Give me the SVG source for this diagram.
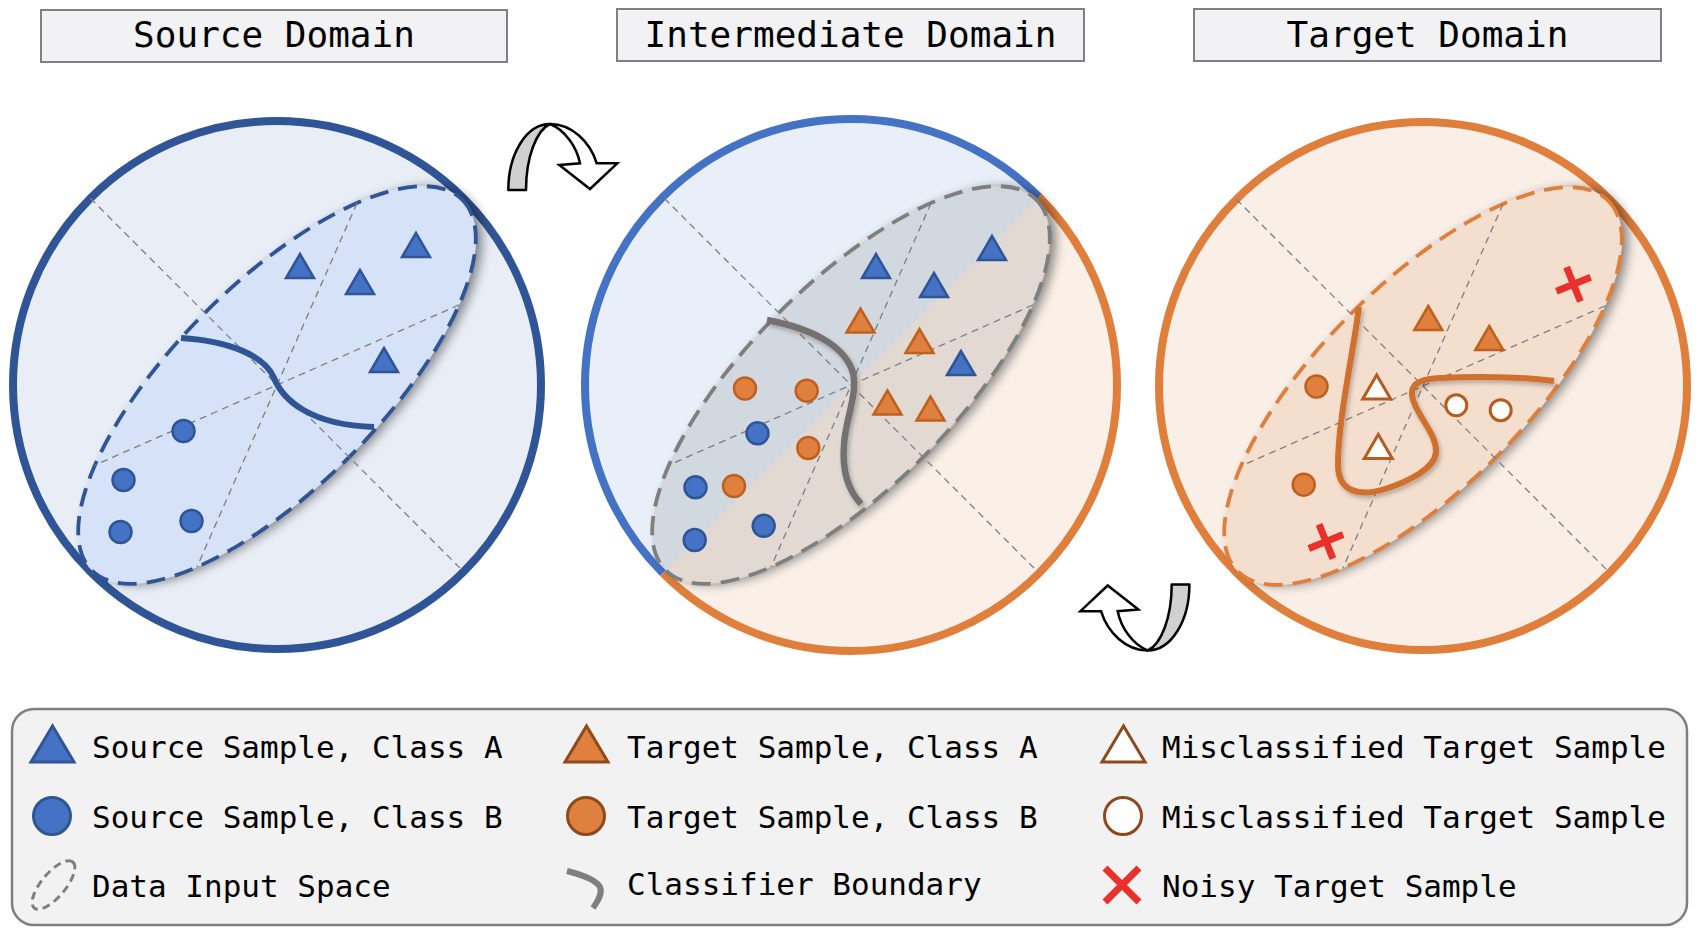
<svg xmlns="http://www.w3.org/2000/svg" xmlns:xlink="http://www.w3.org/1999/xlink" width="1700" height="936" viewBox="0 0 1700 936">
<defs>
<style>
.tbox{fill:#F2F2F4;stroke:#808080;stroke-width:2}
.title{font-family:"DejaVu Sans Mono","Liberation Mono",monospace;font-size:36px;fill:#000;text-anchor:middle}
.leg{font-family:"DejaVu Sans Mono","Liberation Mono",monospace;font-size:31px;fill:#000}
.axis{stroke:#7F7F7F;stroke-width:1.3;stroke-dasharray:7 5;fill:none}
.bs{fill:#4472C4;stroke:#2F5597;stroke-width:2.5}
.os{fill:#E0803E;stroke:#C0601F;stroke-width:2.5}
.ms{fill:#FFFFFF;stroke:#B85A1E;stroke-width:3}
.cross{stroke:#E8312A;stroke-width:7;fill:none}
.space{stroke-width:3.8;stroke-dasharray:19 10}
.arrowBack{fill:#D0D0D0;stroke:#000;stroke-width:2.5;stroke-linejoin:round}
.arrowFront{fill:#FFFFFF;stroke:#000;stroke-width:2.5;stroke-linejoin:miter}
</style>
<filter id="shOut" x="-15%" y="-25%" width="130%" height="150%">
<feGaussianBlur in="SourceAlpha" stdDeviation="5.5"/>
<feOffset dx="4" dy="5" result="b"/>
<feComponentTransfer><feFuncA type="linear" slope="0.45"/></feComponentTransfer>
<feComposite in2="SourceAlpha" operator="out"/>
</filter>
<filter id="lsh" x="-20%" y="-20%" width="140%" height="140%">
<feDropShadow dx="2" dy="3" stdDeviation="2" flood-color="#000" flood-opacity="0.25"/>
</filter>
<linearGradient id="midFill" gradientUnits="userSpaceOnUse" x1="751" y1="285" x2="951" y2="485">
<stop offset="0.5" stop-color="#E8EFF8"/>
<stop offset="0.5" stop-color="#FAF0E8"/>
</linearGradient>
<polygon id="tri" points="0,-12 -14,12 14,12"/>
<g id="axes">
<line class="axis" x1="0" y1="-264" x2="0" y2="264"/>
<line class="axis" x1="185.3" y1="72.1" x2="-185.3" y2="-72.1"/>
<line class="axis" x1="185.3" y1="-72.1" x2="-185.3" y2="72.1"/>
</g>
</defs>

<g id="title-source">
<rect class="tbox" x="41" y="10" width="466" height="52"/>
<text class="title" x="274" y="47">Source Domain</text>
</g>
<g id="title-intermediate">
<rect class="tbox" x="617" y="9" width="467" height="52"/>
<text class="title" x="850.5" y="47">Intermediate Domain</text>
</g>
<g id="title-target">
<rect class="tbox" x="1194" y="9" width="467" height="52"/>
<text class="title" x="1427.5" y="47">Target Domain</text>
</g>

<g id="source-domain">
<circle cx="277" cy="385" r="264" fill="#E9EDF6" stroke="#2F5597" stroke-width="8"/>
<g transform="translate(277,385) rotate(-45)">
<ellipse rx="262" ry="102" fill="#000" filter="url(#shOut)"/>
<ellipse class="space" rx="262" ry="102" fill="#D6E2F7" stroke="#2F5597"/>
<use xlink:href="#axes" href="#axes"/>
</g>
<use class="bs" href="#tri" xlink:href="#tri" x="300" y="266"/>
<use class="bs" href="#tri" xlink:href="#tri" x="416" y="245"/>
<use class="bs" href="#tri" xlink:href="#tri" x="360" y="282"/>
<use class="bs" href="#tri" xlink:href="#tri" x="384" y="360"/>
<circle class="bs" cx="183.5" cy="431" r="11"/>
<circle class="bs" cx="123.5" cy="480" r="11"/>
<circle class="bs" cx="120.5" cy="532" r="11"/>
<circle class="bs" cx="191.5" cy="521" r="11"/>
<path d="M181,338 C230,341 265,356 274,378 C283,400 310,425 374,427" fill="none" stroke="#2F5597" stroke-width="6"/>
</g>

<g id="intermediate-domain">
<circle cx="851" cy="385" r="266" fill="url(#midFill)"/>
<path d="M662.9,573.1 A266,266 0 0 1 1039.1,196.9" fill="none" stroke="#4472C4" stroke-width="8"/>
<path d="M1039.1,196.9 A266,266 0 0 1 662.9,573.1" fill="none" stroke="#E07E3C" stroke-width="8"/>
<g transform="translate(851,385) rotate(-45)">
<ellipse rx="262" ry="102" fill="#000" filter="url(#shOut)"/>
<ellipse class="space" rx="262" ry="102" fill="#7F7F7F" fill-opacity="0.2" stroke="#7F7F7F"/>
<use xlink:href="#axes" href="#axes"/>
</g>
<use class="bs" href="#tri" xlink:href="#tri" x="876" y="266"/>
<use class="bs" href="#tri" xlink:href="#tri" x="992" y="248"/>
<use class="bs" href="#tri" xlink:href="#tri" x="934" y="285"/>
<use class="bs" href="#tri" xlink:href="#tri" x="961" y="363"/>
<use class="os" href="#tri" xlink:href="#tri" x="860.5" y="320.5"/>
<use class="os" href="#tri" xlink:href="#tri" x="919.5" y="341"/>
<use class="os" href="#tri" xlink:href="#tri" x="887.5" y="402.5"/>
<use class="os" href="#tri" xlink:href="#tri" x="930.5" y="408.5"/>
<circle class="os" cx="745" cy="388.5" r="11"/>
<circle class="os" cx="806.7" cy="390.7" r="11"/>
<circle class="os" cx="808.3" cy="448" r="11"/>
<circle class="os" cx="734" cy="486" r="11"/>
<circle class="bs" cx="757.5" cy="433.3" r="11"/>
<circle class="bs" cx="695.5" cy="487.3" r="11"/>
<circle class="bs" cx="694.7" cy="540" r="11"/>
<circle class="bs" cx="763.7" cy="525.8" r="11"/>
<path d="M767,320 C810,328 845,345 853,373 C858,395 845,420 844,445 C842,470 848,490 861,504" fill="none" stroke="#767171" stroke-width="6.5" filter="url(#lsh)"/>
</g>

<g id="target-domain">
<circle cx="1423" cy="386" r="264" fill="#FAEFE6" stroke="#E07E3C" stroke-width="8"/>
<g transform="translate(1423,386) rotate(-45)">
<ellipse rx="262" ry="102" fill="#000" filter="url(#shOut)"/>
<ellipse class="space" rx="262" ry="102" fill="#F4DFCE" stroke="#E07E3C"/>
<use xlink:href="#axes" href="#axes"/>
</g>
<use class="os" href="#tri" xlink:href="#tri" x="1428.3" y="318"/>
<use class="os" href="#tri" xlink:href="#tri" x="1489.3" y="338"/>
<use class="ms" href="#tri" xlink:href="#tri" x="1376.7" y="387"/>
<use class="ms" href="#tri" xlink:href="#tri" x="1378.3" y="446.5"/>
<circle class="os" cx="1316.5" cy="386.5" r="11"/>
<circle class="os" cx="1303.7" cy="484.7" r="11"/>
<circle class="ms" cx="1456.3" cy="405.3" r="10.5"/>
<circle class="ms" cx="1500.7" cy="410.2" r="10.5"/>
<path class="cross" d="M-18.5,0H18.5M0,-18.5V18.5" transform="translate(1573.5,284.3) rotate(-22)"/>
<path class="cross" d="M-18.5,0H18.5M0,-18.5V18.5" transform="translate(1326,541.5) rotate(-22)"/>
<path d="M1359,307 C1352,360 1338,420 1338,465 C1338,492 1360,497 1385,489 C1410,481 1435,468 1436,452 C1437,435 1420,420 1413,400 C1409,386 1416,379 1440,378 C1490,376 1530,378 1554,381" fill="none" stroke="#D0702F" stroke-width="6" filter="url(#lsh)"/>
</g>

<g id="connectors">
<g id="arrow-forward">
<path class="arrowBack" d="M508.3,190 C508.3,153.3 526.7,124 550,124 C536.7,130 526,156.7 526,190 Z"/>
<path class="arrowFront" d="M550,124 C571.7,124 590,141.7 596.7,163.3 L617.3,163.3 L590,189 L559.3,165 L580,163.3 C576.7,146.7 565,130 550,124 Z"/>
</g>
<g id="arrow-back" transform="translate(1697.7,774.5) rotate(180)">
<path class="arrowBack" d="M508.3,190 C508.3,153.3 526.7,124 550,124 C536.7,130 526,156.7 526,190 Z"/>
<path class="arrowFront" d="M550,124 C571.7,124 590,141.7 596.7,163.3 L617.3,163.3 L590,189 L559.3,165 L580,163.3 C576.7,146.7 565,130 550,124 Z"/>
</g>
</g>

<g id="legend">
<rect x="12" y="709" width="1675" height="216" rx="22" ry="22" fill="#F2F2F2" stroke="#7F7F7F" stroke-width="2.5"/>
<g id="legend-source-a">
<polygon points="52.5,726 31,762 74,762" fill="#4472C4" stroke="#2F5597" stroke-width="3"/>
<text class="leg" x="92" y="758">Source Sample, Class A</text>
</g>
<g id="legend-source-b">
<circle cx="52" cy="816" r="18.5" fill="#4472C4" stroke="#2F5597" stroke-width="3"/>
<text class="leg" x="92" y="828">Source Sample, Class B</text>
</g>
<g id="legend-input-space">
<ellipse cx="53.5" cy="885" rx="30" ry="12" transform="rotate(-50 53.5 885)" fill="none" stroke="#7F7F7F" stroke-width="3" stroke-dasharray="8 5"/>
<text class="leg" x="92" y="897">Data Input Space</text>
</g>
<g id="legend-target-a">
<polygon points="586.5,726 565,762 608,762" fill="#E0803E" stroke="#8C4A1E" stroke-width="3"/>
<text class="leg" x="627" y="758">Target Sample, Class A</text>
</g>
<g id="legend-target-b">
<circle cx="586" cy="816" r="18.5" fill="#E0803E" stroke="#8C4A1E" stroke-width="3"/>
<text class="leg" x="627" y="828">Target Sample, Class B</text>
</g>
<g id="legend-boundary">
<path d="M567,871 C583,875 596,880 600,887 C603,894 597,902 593,908" fill="none" stroke="#7F7F7F" stroke-width="6"/>
<text class="leg" x="627" y="895">Classifier Boundary</text>
</g>
<g id="legend-mis-tri">
<polygon points="1123.5,726 1102,762 1145,762" fill="#FFFFFF" stroke="#8C4A1E" stroke-width="3"/>
<text class="leg" x="1162" y="758">Misclassified Target Sample</text>
</g>
<g id="legend-mis-circle">
<circle cx="1123" cy="816" r="18.5" fill="#FFFFFF" stroke="#8C4A1E" stroke-width="3"/>
<text class="leg" x="1162" y="828">Misclassified Target Sample</text>
</g>
<g id="legend-noisy">
<path class="cross" d="M1105,868 L1139,902 M1139,868 L1105,902"/>
<text class="leg" x="1162" y="897">Noisy Target Sample</text>
</g>
</g>
</svg>
